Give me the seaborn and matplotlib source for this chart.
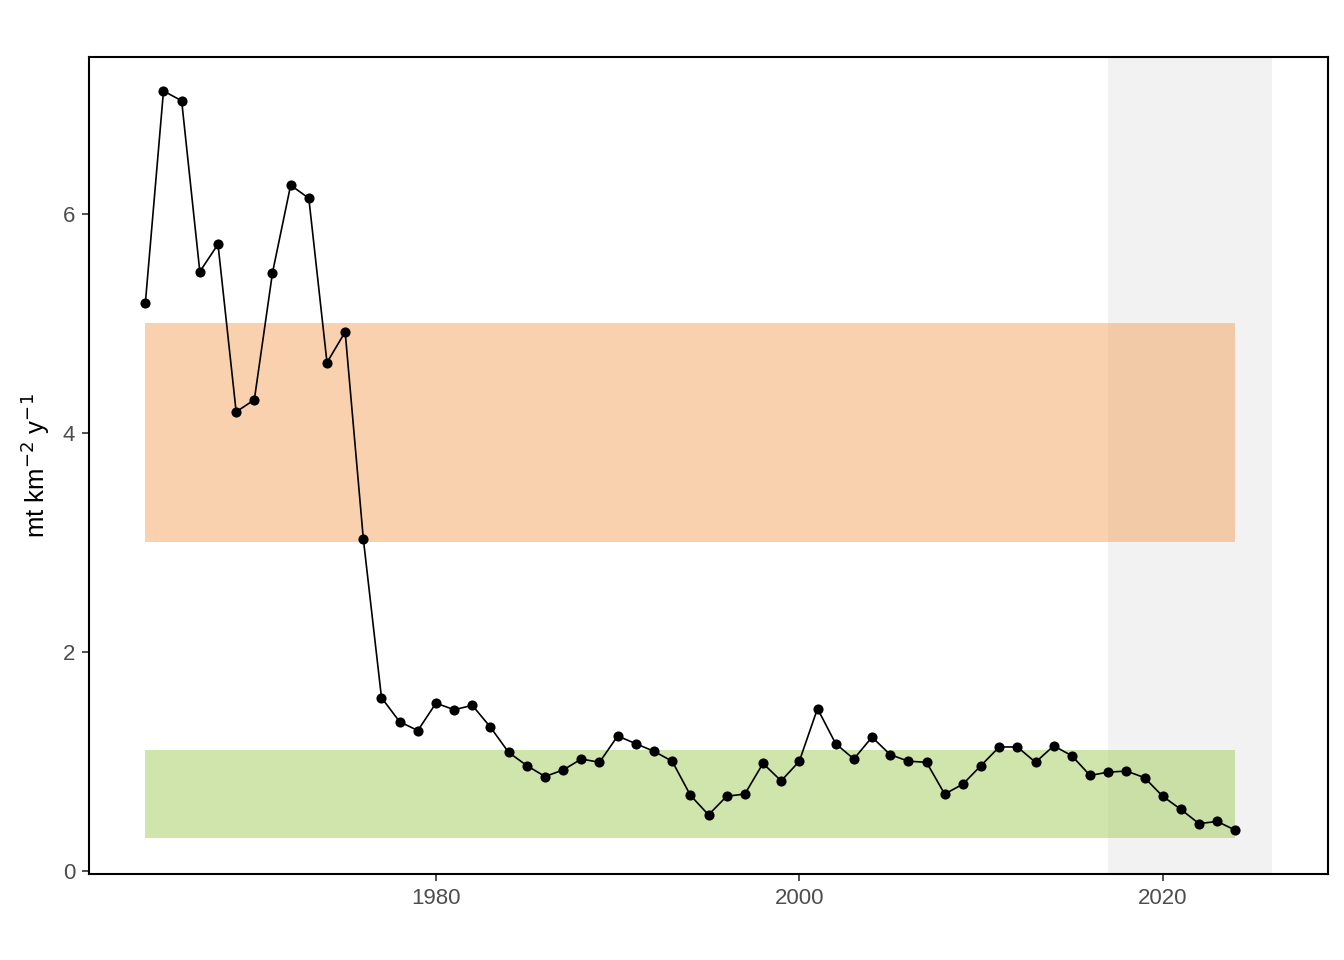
import numpy as np
import pandas as pd
import matplotlib
matplotlib.use('Agg')
import matplotlib.pyplot as plt
import seaborn as sns

years = list(range(1964, 2025))
values = [5.18, 7.12, 7.03, 5.47, 5.72, 4.19, 4.30, 5.46, 6.26, 6.14,
          4.64, 4.92, 3.03, 1.58, 1.36, 1.28, 1.53, 1.47, 1.51, 1.31,
          1.08, 0.96, 0.86, 0.92, 1.02, 0.99, 1.23, 1.16, 1.09, 1.00,
          0.69, 0.51, 0.68, 0.70, 0.98, 0.82, 1.00, 1.48, 1.16, 1.02,
          1.22, 1.06, 1.00, 0.99, 0.70, 0.79, 0.96, 1.13, 1.13, 0.99,
          1.14, 1.05, 0.87, 0.90, 0.91, 0.85, 0.68, 0.56, 0.43, 0.45,
          0.37]

# reference bands
band_years = [1964, 2024]
high_band = [3.0, 5.0]
low_band = [0.3, 1.1]
recent_years = [2017, 2026]

df = pd.DataFrame({'year': years, 'value': values})

sns.set_theme(style='white')
plt.rcParams['font.family'] = ['Liberation Sans', 'DejaVu Sans']

fig = plt.figure(figsize=(13.44, 9.6), dpi=100)
ax = fig.add_axes([89/1344, 1 - 874/960, (1328-89)/1344, (874-57)/960])

ax.axvspan(recent_years[0], recent_years[1], color='#F2F2F2', lw=0, zorder=0)
ax.fill_between(band_years, high_band[0], high_band[1], color='#F4A460',
                alpha=0.5, lw=0, zorder=1)
ax.fill_between(band_years, low_band[0], low_band[1], color='#A2CD5A',
                alpha=0.5, lw=0, zorder=1)

sns.lineplot(data=df, x='year', y='value', color='black', lw=1.2,
             marker='o', markersize=7.3, markeredgewidth=0, ax=ax, zorder=3)

ax.set_xlim(1960.9, 2029.1)
ax.set_ylim(-0.03, 7.43)
ax.set_xticks([1980, 2000, 2020])
ax.set_yticks([0, 2, 4, 6])
ax.set_xlabel('')
ax.set_ylabel(r'mt km$^{-2}$ y$^{-1}$', fontsize=18.5, color='black', labelpad=8)
ax.tick_params(axis='both', which='both', length=5, width=1.2, color='#333333',
               labelsize=16, labelcolor='#4D4D4D', pad=5, bottom=True, left=True)

for s in ax.spines.values():
    s.set_color('black')
    s.set_linewidth(1.5)

fig.savefig('out.png', dpi=100)
